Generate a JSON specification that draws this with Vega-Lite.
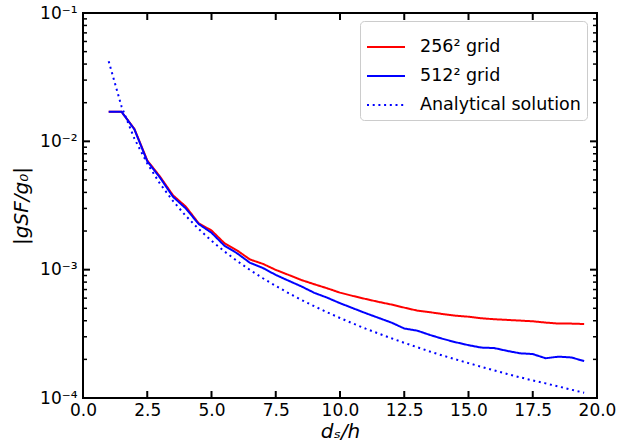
{
  "$schema": "https://vega.github.io/schema/vega-lite/v6.json",
  "autosize": "none",
  "width": 514,
  "height": 385,
  "padding": {"left": 83, "top": 13, "right": 21, "bottom": 48},
  "config": {
    "view": {"stroke": "black", "strokeWidth": 2},
    "font": "DejaVu Sans",
    "axis": {
      "grid": false, "domain": false, "labelColor": "black", "titleColor": "black",
      "labelFont": "DejaVu Sans", "titleFont": "DejaVu Sans", "labelFontSize": 17, "titleFontSize": 20, "titleFontWeight": "normal"
    }
  },
  "datasets": {
    "xticks": [{"t": 0}, {"t": 2.5}, {"t": 5}, {"t": 7.5}, {"t": 10}, {"t": 12.5}, {"t": 15}, {"t": 17.5}, {"t": 20}],
    "yticks": [{"t": 0.0001}, {"t": 0.001}, {"t": 0.01}, {"t": 0.1}],
    "yminor": [{"t": 0.0002}, {"t": 0.0003}, {"t": 0.0004}, {"t": 0.0005}, {"t": 0.0006}, {"t": 0.0007}, {"t": 0.0008}, {"t": 0.0009},
               {"t": 0.002}, {"t": 0.003}, {"t": 0.004}, {"t": 0.005}, {"t": 0.006}, {"t": 0.007}, {"t": 0.008}, {"t": 0.009},
               {"t": 0.02}, {"t": 0.03}, {"t": 0.04}, {"t": 0.05}, {"t": 0.06}, {"t": 0.07}, {"t": 0.08}, {"t": 0.09}],
    "d": [
      {"x": 1.0, "y": 0.0170, "series": "256² grid"},
      {"x": 1.5, "y": 0.0170, "series": "256² grid"},
      {"x": 2.0, "y": 0.0125, "series": "256² grid"},
      {"x": 2.5, "y": 0.0071, "series": "256² grid"},
      {"x": 3.0, "y": 0.0053, "series": "256² grid"},
      {"x": 3.5, "y": 0.0038, "series": "256² grid"},
      {"x": 4.0, "y": 0.0031, "series": "256² grid"},
      {"x": 4.5, "y": 0.0023, "series": "256² grid"},
      {"x": 5.0, "y": 0.00202, "series": "256² grid"},
      {"x": 5.5, "y": 0.00161, "series": "256² grid"},
      {"x": 6.0, "y": 0.00141, "series": "256² grid"},
      {"x": 6.5, "y": 0.00120, "series": "256² grid"},
      {"x": 7.0, "y": 0.00111, "series": "256² grid"},
      {"x": 7.5, "y": 0.000996, "series": "256² grid"},
      {"x": 8.0, "y": 0.00091, "series": "256² grid"},
      {"x": 8.5, "y": 0.00083, "series": "256² grid"},
      {"x": 9.0, "y": 0.00077, "series": "256² grid"},
      {"x": 9.5, "y": 0.000716, "series": "256² grid"},
      {"x": 10.0, "y": 0.000662, "series": "256² grid"},
      {"x": 10.5, "y": 0.000624, "series": "256² grid"},
      {"x": 11.0, "y": 0.000591, "series": "256² grid"},
      {"x": 11.5, "y": 0.000561, "series": "256² grid"},
      {"x": 12.0, "y": 0.000535, "series": "256² grid"},
      {"x": 12.5, "y": 0.000506, "series": "256² grid"},
      {"x": 13.0, "y": 0.000480, "series": "256² grid"},
      {"x": 13.5, "y": 0.000466, "series": "256² grid"},
      {"x": 14.0, "y": 0.000451, "series": "256² grid"},
      {"x": 14.5, "y": 0.000438, "series": "256² grid"},
      {"x": 15.0, "y": 0.000430, "series": "256² grid"},
      {"x": 15.5, "y": 0.000418, "series": "256² grid"},
      {"x": 16.0, "y": 0.000411, "series": "256² grid"},
      {"x": 16.5, "y": 0.000406, "series": "256² grid"},
      {"x": 17.0, "y": 0.000401, "series": "256² grid"},
      {"x": 17.5, "y": 0.000396, "series": "256² grid"},
      {"x": 18.0, "y": 0.000387, "series": "256² grid"},
      {"x": 18.5, "y": 0.000380, "series": "256² grid"},
      {"x": 19.0, "y": 0.000380, "series": "256² grid"},
      {"x": 19.5, "y": 0.000377, "series": "256² grid"},
      {"x": 1.0, "y": 0.0170, "series": "512² grid"},
      {"x": 1.5, "y": 0.0170, "series": "512² grid"},
      {"x": 2.0, "y": 0.0124, "series": "512² grid"},
      {"x": 2.5, "y": 0.0070, "series": "512² grid"},
      {"x": 3.0, "y": 0.0052, "series": "512² grid"},
      {"x": 3.5, "y": 0.0037, "series": "512² grid"},
      {"x": 4.0, "y": 0.0030, "series": "512² grid"},
      {"x": 4.5, "y": 0.00227, "series": "512² grid"},
      {"x": 5.0, "y": 0.00194, "series": "512² grid"},
      {"x": 5.5, "y": 0.00154, "series": "512² grid"},
      {"x": 6.0, "y": 0.00134, "series": "512² grid"},
      {"x": 6.5, "y": 0.00113, "series": "512² grid"},
      {"x": 7.0, "y": 0.00103, "series": "512² grid"},
      {"x": 7.5, "y": 0.00091, "series": "512² grid"},
      {"x": 8.0, "y": 0.00082, "series": "512² grid"},
      {"x": 8.5, "y": 0.00074, "series": "512² grid"},
      {"x": 9.0, "y": 0.00066, "series": "512² grid"},
      {"x": 9.5, "y": 0.000605, "series": "512² grid"},
      {"x": 10.0, "y": 0.000548, "series": "512² grid"},
      {"x": 10.5, "y": 0.000501, "series": "512² grid"},
      {"x": 11.0, "y": 0.000458, "series": "512² grid"},
      {"x": 11.5, "y": 0.000421, "series": "512² grid"},
      {"x": 12.0, "y": 0.000387, "series": "512² grid"},
      {"x": 12.5, "y": 0.000348, "series": "512² grid"},
      {"x": 13.0, "y": 0.000335, "series": "512² grid"},
      {"x": 13.5, "y": 0.000310, "series": "512² grid"},
      {"x": 14.0, "y": 0.000289, "series": "512² grid"},
      {"x": 14.5, "y": 0.000272, "series": "512² grid"},
      {"x": 15.0, "y": 0.000258, "series": "512² grid"},
      {"x": 15.5, "y": 0.000247, "series": "512² grid"},
      {"x": 16.0, "y": 0.000245, "series": "512² grid"},
      {"x": 16.5, "y": 0.000233, "series": "512² grid"},
      {"x": 17.0, "y": 0.000223, "series": "512² grid"},
      {"x": 17.5, "y": 0.000220, "series": "512² grid"},
      {"x": 18.0, "y": 0.000204, "series": "512² grid"},
      {"x": 18.5, "y": 0.000210, "series": "512² grid"},
      {"x": 19.0, "y": 0.000207, "series": "512² grid"},
      {"x": 19.5, "y": 0.000194, "series": "512² grid"},
      {"x": 1.0, "y": 0.042, "series": "Analytical solution"},
      {"x": 1.5, "y": 0.01867, "series": "Analytical solution"},
      {"x": 2.0, "y": 0.0105, "series": "Analytical solution"},
      {"x": 2.5, "y": 0.00672, "series": "Analytical solution"},
      {"x": 3.0, "y": 0.004667, "series": "Analytical solution"},
      {"x": 3.5, "y": 0.003429, "series": "Analytical solution"},
      {"x": 4.0, "y": 0.002625, "series": "Analytical solution"},
      {"x": 4.5, "y": 0.002074, "series": "Analytical solution"},
      {"x": 5.0, "y": 0.00168, "series": "Analytical solution"},
      {"x": 5.5, "y": 0.001388, "series": "Analytical solution"},
      {"x": 6.0, "y": 0.001167, "series": "Analytical solution"},
      {"x": 6.5, "y": 0.000994, "series": "Analytical solution"},
      {"x": 7.0, "y": 0.000857, "series": "Analytical solution"},
      {"x": 7.5, "y": 0.000747, "series": "Analytical solution"},
      {"x": 8.0, "y": 0.000656, "series": "Analytical solution"},
      {"x": 8.5, "y": 0.000581, "series": "Analytical solution"},
      {"x": 9.0, "y": 0.000519, "series": "Analytical solution"},
      {"x": 9.5, "y": 0.000465, "series": "Analytical solution"},
      {"x": 10.0, "y": 0.00042, "series": "Analytical solution"},
      {"x": 10.5, "y": 0.000381, "series": "Analytical solution"},
      {"x": 11.0, "y": 0.000347, "series": "Analytical solution"},
      {"x": 11.5, "y": 0.000318, "series": "Analytical solution"},
      {"x": 12.0, "y": 0.000292, "series": "Analytical solution"},
      {"x": 12.5, "y": 0.000269, "series": "Analytical solution"},
      {"x": 13.0, "y": 0.000249, "series": "Analytical solution"},
      {"x": 13.5, "y": 0.000230, "series": "Analytical solution"},
      {"x": 14.0, "y": 0.000214, "series": "Analytical solution"},
      {"x": 14.5, "y": 0.000200, "series": "Analytical solution"},
      {"x": 15.0, "y": 0.000187, "series": "Analytical solution"},
      {"x": 15.5, "y": 0.000175, "series": "Analytical solution"},
      {"x": 16.0, "y": 0.000164, "series": "Analytical solution"},
      {"x": 16.5, "y": 0.000154, "series": "Analytical solution"},
      {"x": 17.0, "y": 0.000145, "series": "Analytical solution"},
      {"x": 17.5, "y": 0.000137, "series": "Analytical solution"},
      {"x": 18.0, "y": 0.000130, "series": "Analytical solution"},
      {"x": 18.5, "y": 0.000123, "series": "Analytical solution"},
      {"x": 19.0, "y": 0.000116, "series": "Analytical solution"},
      {"x": 19.5, "y": 0.000110, "series": "Analytical solution"}
    ]
  },
  "resolve": {"axis": {"x": "independent", "y": "independent"}},
  "layer": [
    {
      "data": {"name": "d"},
      "mark": {"type": "line", "strokeWidth": 2, "clip": true},
      "encoding": {
        "x": {"field": "x", "type": "quantitative", "scale": {"domain": [0, 20], "nice": false, "zero": false},
          "axis": {"orient": "bottom", "values": [0, 2.5, 5, 7.5, 10, 12.5, 15, 17.5, 20], "format": ".1f", "offset": -7, "tickSize": 7, "tickOpacity": 0, "labelFontSize": 17, "labelPadding": 4, "labelFlush": false, "title": "dₛ/h", "titleFontSize": 20, "titleFontStyle": "italic", "titlePadding": 3}},
        "y": {"field": "y", "type": "quantitative", "scale": {"type": "log", "domain": [0.0001, 0.1], "nice": false},
          "axis": {"orient": "left", "values": [0.0001, 0.001, 0.01, 0.1], "offset": -7, "tickSize": 7, "tickOpacity": 0, "labelFontSize": 17, "labelPadding": 6,
            "labelExpr": "datum.value > 0.05 ? '10⁻¹' : datum.value > 0.005 ? '10⁻²' : datum.value > 0.0005 ? '10⁻³' : '10⁻⁴'",
            "title": "|gSF/g₀|", "titleFontSize": 20, "titleFontStyle": "italic", "titlePadding": 8}},
        "color": {"field": "series", "type": "nominal",
          "scale": {"domain": ["256² grid", "512² grid", "Analytical solution"], "range": ["#ff0000", "#0000ff", "#0000ff"]},
          "legend": {"title": null, "orient": "none", "legendX": 277, "legendY": 8, "symbolType": "stroke", "symbolSize": 1444, "symbolStrokeWidth": 2,
            "labelFontSize": 17.5, "labelLimit": 400, "labelFont": "DejaVu Sans", "labelColor": "black", "rowPadding": -1, "padding": 6, "fillColor": "white", "strokeColor": "#cccccc", "cornerRadius": 4, "labelOffset": 14}},
        "strokeDash": {"field": "series", "type": "nominal",
          "scale": {"domain": ["256² grid", "512² grid", "Analytical solution"], "range": [[1, 0], [1, 0], [2, 3.7]]},
          "legend": {"title": null, "orient": "none", "legendX": 277, "legendY": 8, "symbolType": "stroke", "symbolSize": 1444, "symbolStrokeWidth": 2,
            "labelFontSize": 17.5, "labelLimit": 400, "labelFont": "DejaVu Sans", "labelColor": "black", "rowPadding": -1, "padding": 6, "fillColor": "white", "strokeColor": "#cccccc", "cornerRadius": 4, "labelOffset": 14}}
      }
    },
    {
      "data": {"name": "xticks"},
      "mark": {"type": "tick", "orient": "vertical", "color": "black", "opacity": 1, "size": 7, "thickness": 2, "yOffset": -3.5},
      "encoding": {
        "x": {"field": "t", "type": "quantitative", "axis": null},
        "y": {"datum": 0.0001, "type": "quantitative", "axis": null}
      }
    },
    {
      "data": {"name": "xticks"},
      "mark": {"type": "tick", "orient": "vertical", "color": "black", "opacity": 1, "size": 7, "thickness": 2, "yOffset": 3.5},
      "encoding": {
        "x": {"field": "t", "type": "quantitative", "axis": null},
        "y": {"datum": 0.1, "type": "quantitative", "axis": null}
      }
    },
    {
      "data": {"name": "yticks"},
      "mark": {"type": "tick", "orient": "horizontal", "color": "black", "opacity": 1, "size": 7, "thickness": 2, "xOffset": 3.5},
      "encoding": {
        "x": {"datum": 0, "type": "quantitative", "axis": null},
        "y": {"field": "t", "type": "quantitative", "axis": null}
      }
    },
    {
      "data": {"name": "yticks"},
      "mark": {"type": "tick", "orient": "horizontal", "color": "black", "opacity": 1, "size": 7, "thickness": 2, "xOffset": -3.5},
      "encoding": {
        "x": {"datum": 20, "type": "quantitative", "axis": null},
        "y": {"field": "t", "type": "quantitative", "axis": null}
      }
    },
    {
      "data": {"name": "yminor"},
      "mark": {"type": "tick", "orient": "horizontal", "color": "black", "opacity": 1, "size": 4, "thickness": 1.5, "xOffset": 2},
      "encoding": {
        "x": {"datum": 0, "type": "quantitative", "axis": null},
        "y": {"field": "t", "type": "quantitative", "axis": null}
      }
    },
    {
      "data": {"name": "yminor"},
      "mark": {"type": "tick", "orient": "horizontal", "color": "black", "opacity": 1, "size": 4, "thickness": 1.5, "xOffset": -2},
      "encoding": {
        "x": {"datum": 20, "type": "quantitative", "axis": null},
        "y": {"field": "t", "type": "quantitative", "axis": null}
      }
    }
  ]
}
